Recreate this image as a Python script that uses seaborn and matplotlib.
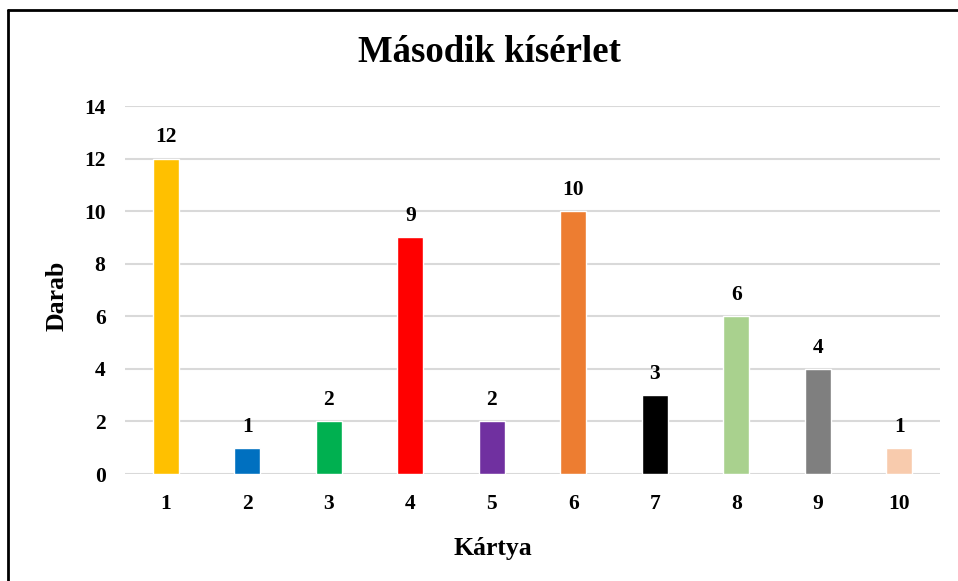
import matplotlib
matplotlib.use("Agg")
import matplotlib.pyplot as plt
from matplotlib.lines import Line2D
import seaborn as sns
import pandas as pd

categories = ["1", "2", "3", "4", "5", "6", "7", "8", "9", "10"]
counts = [12, 1, 2, 9, 2, 10, 3, 6, 4, 1]
colors = ["#FFC000", "#0070C0", "#00B050", "#FF0000", "#7030A0",
          "#ED7D31", "#000000", "#A9D18E", "#7F7F7F", "#F8CBAD"]
y_ticks = [0, 2, 4, 6, 8, 10, 12, 14]

sns.set_theme(style="white")
plt.rcParams["font.family"] = ["Liberation Serif", "DejaVu Serif"]
plt.rcParams["font.weight"] = "bold"
plt.rcParams["text.color"] = "black"
plt.rcParams["xtick.color"] = "black"
plt.rcParams["ytick.color"] = "black"
plt.rcParams["axes.labelcolor"] = "black"

df = pd.DataFrame({"Kártya": categories, "Darab": counts})

W, H = 958, 581
fig = plt.figure(figsize=(W / 100, H / 100), dpi=100)
ax = fig.add_axes([125 / W, 107 / H, (940 - 125) / W, 368 / H])

sns.barplot(data=df, x="Kártya", y="Darab", hue="Kártya", palette=colors,
            order=categories, hue_order=categories, width=0.32,
            legend=False, ax=ax, saturation=1)

ax.set_ylim(0, 14)
ax.set_xlim(-0.5, 9.5)
ax.set_yticks(y_ticks)
ax.yaxis.grid(True, color="#D9D9D9", linewidth=1.5)
ax.set_axisbelow(True)
for s in ax.spines.values():
    s.set_visible(False)
ax.tick_params(axis="both", length=0, labelsize=15.5)
ax.tick_params(axis="y", pad=14)
ax.tick_params(axis="x", pad=14.5)
for lab in ax.get_xticklabels() + ax.get_yticklabels():
    lab.set_fontweight("bold")

for i, v in enumerate(counts):
    ax.annotate(str(v), (i, v), xytext=(0, 8), textcoords="offset points",
                ha="center", va="bottom", fontsize=15.5, fontweight="bold")

ax.set_xlabel("")
ax.set_ylabel("")
fig.text(493 / W, 1 - 549 / H, "Kártya", fontsize=18.5, fontweight="bold",
         ha="center", va="center")
fig.text(57 / W, 1 - 296 / H, "Darab", fontsize=18.5, fontweight="bold",
         ha="center", va="center", rotation=90)
fig.text(489 / W, 1 - 53 / H, "Második kísérlet", fontsize=26.5,
         fontweight="bold", ha="center", va="center")

# chart frame (left and top edges)
fig.add_artist(Line2D([8 / W, 8 / W], [0, 1 - 10 / H], color="black",
                      linewidth=2, transform=fig.transFigure))
fig.add_artist(Line2D([8 / W, 1], [1 - 10 / H, 1 - 10 / H], color="black",
                      linewidth=2, transform=fig.transFigure))

fig.savefig("out.png", dpi=100, facecolor="white")
